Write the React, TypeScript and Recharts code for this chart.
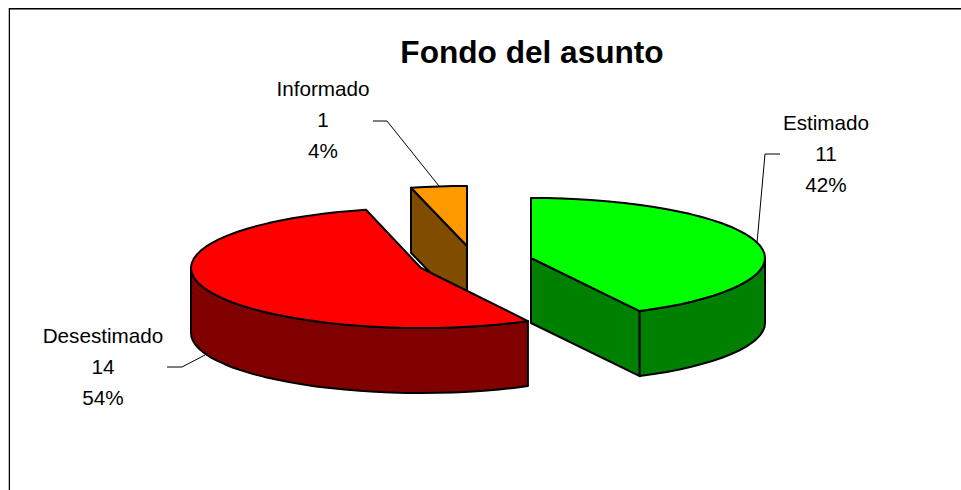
import React from "react";
import { PieChart, Pie } from "recharts";

const categories = ["Informado", "Desestimado", "Estimado"];
const values = [1, 14, 11];
const percents = ["4%", "54%", "42%"];
const tableData = categories.map((name, i) => ({ name, value: values[i], pct: percents[i] }));

const W = 961, H = 490;
const CX = 470, CY = 258, RX = 234, RY = 60, DEPTH = 65;
const offsets: Record<string, [number, number]> = {
  Informado: [-3, -12],
  Desestimado: [-49, 10],
  Estimado: [61, 0],
};
const radiusX: Record<string, number> = { Informado: RX, Desestimado: 230, Estimado: RX };
const topFill: Record<string, string> = { Informado: "#FF9900", Desestimado: "#FF0000", Estimado: "#00FF00" };
const sideFill: Record<string, string> = { Informado: "#804C00", Desestimado: "#800000", Estimado: "#008000" };
const labelPos: Record<string, [number, number]> = {
  Informado: [323, 96],
  Desestimado: [103, 343],
  Estimado: [826, 130],
};
const leaders: Record<string, string> = {
  Informado: "373,121 387,121 439,186",
  Desestimado: "167,367 182,367 205,355",
  Estimado: "780,154 765,154 757,243",
};

const RAD = Math.PI / 180;

function arcPts(cx: number, cy: number, rx: number, a0: number, a1: number, dy = 0) {
  const n = Math.max(2, Math.ceil(Math.abs(a1 - a0) / 4));
  const pts: string[] = [];
  for (let i = 0; i <= n; i++) {
    const a = (a0 + ((a1 - a0) * i) / n) * RAD;
    pts.push(`${(cx + rx * Math.cos(a)).toFixed(1)},${(cy - RY * Math.sin(a) + dy).toFixed(1)}`);
  }
  return pts;
}

function Slice3D(props: any) {
  const { startAngle: s, endAngle: e, cx, cy } = props;
  const name: string = props.name ?? props.payload?.name;
  const [ox, oy] = offsets[name];
  const rx = radiusX[name];
  const x = cx + ox, y = cy + oy;
  const stroke = { stroke: "#000", strokeWidth: 2, strokeLinejoin: "round" as const };
  const side = sideFill[name];

  const faces: React.ReactNode[] = [];
  const faceAt = (a: number, k: string) => {
    const px = x + rx * Math.cos(a * RAD), py = y - RY * Math.sin(a * RAD);
    faces.push(
      <polygon key={k} fill={side} {...stroke}
        points={`${x},${y} ${px},${py} ${px},${py + DEPTH} ${x},${y + DEPTH}`} />
    );
  };
  if (Math.cos(s * RAD) > 0.001) faceAt(s, "s");
  if (Math.cos(e * RAD) < -0.001) faceAt(e, "e");

  const w0 = Math.max(s, 180), w1 = Math.min(e, 360);
  const wall = w1 > w0
    ? [...arcPts(x, y, rx, w0, w1), ...arcPts(x, y, rx, w1, w0, DEPTH)].join(" ")
    : null;
  const top = [`${x},${y}`, ...arcPts(x, y, rx, s, e)].join(" ");
  return (
    <g>
      {faces}
      {wall && <polygon points={wall} fill={side} {...stroke} />}
      <polygon points={top} fill={topFill[name]} {...stroke} />
    </g>
  );
}

function SliceLabel(props: any) {
  const name: string = props.name ?? props.payload?.name;
  const row = tableData.find((d) => d.name === name)!;
  const [lx, ly] = labelPos[name];
  return (
    <g>
      <polyline points={leaders[name]} fill="none" stroke="#000" strokeWidth={1} />
      <text x={lx} y={ly} textAnchor="middle" fontFamily="'Liberation Sans', Arial, sans-serif" fontSize={20.7} fill="#000">
        <tspan x={lx} dy={0}>{name}</tspan>
        <tspan x={lx} dy={31}>{row.value}</tspan>
        <tspan x={lx} dy={31}>{row.pct}</tspan>
      </text>
    </g>
  );
}

export default function App() {
  return (
    <div style={{ position: "absolute", left: 0, top: 0, width: W, height: H, background: "#fff", overflow: "hidden" }}>
      <div style={{ position: "absolute", left: 9, top: 8, width: 952, height: 1, background: "#000" }} />
      <div style={{ position: "absolute", left: 9, top: 9, width: 952, height: 1, background: "#777" }} />
      <div style={{ position: "absolute", left: 9, top: 8, width: 1, height: 482, background: "#000" }} />
      <div style={{ position: "absolute", left: 8, top: 8, width: 1, height: 482, background: "#bbb" }} />
      <div style={{ position: "absolute", left: 0, top: 34, width: 1064, textAlign: "center", fontFamily: "'Liberation Sans', Arial, sans-serif", fontWeight: 700, fontSize: 31.6, lineHeight: "36px", color: "#000" }}>
        Fondo del asunto
      </div>
      <div style={{ position: "absolute", left: 0, top: 0 }}>
        <PieChart width={W} height={H} margin={{ top: 0, right: 0, bottom: 0, left: 0 }}>
          <Pie
            data={tableData}
            dataKey="value"
            nameKey="name"
            cx={CX}
            cy={CY}
            innerRadius={0}
            outerRadius={RX}
            startAngle={90}
            endAngle={450}
            stroke="none"
            shape={Slice3D}
            label={SliceLabel}
            labelLine={false}
            isAnimationActive={false}
          />
        </PieChart>
      </div>
    </div>
  );
}
